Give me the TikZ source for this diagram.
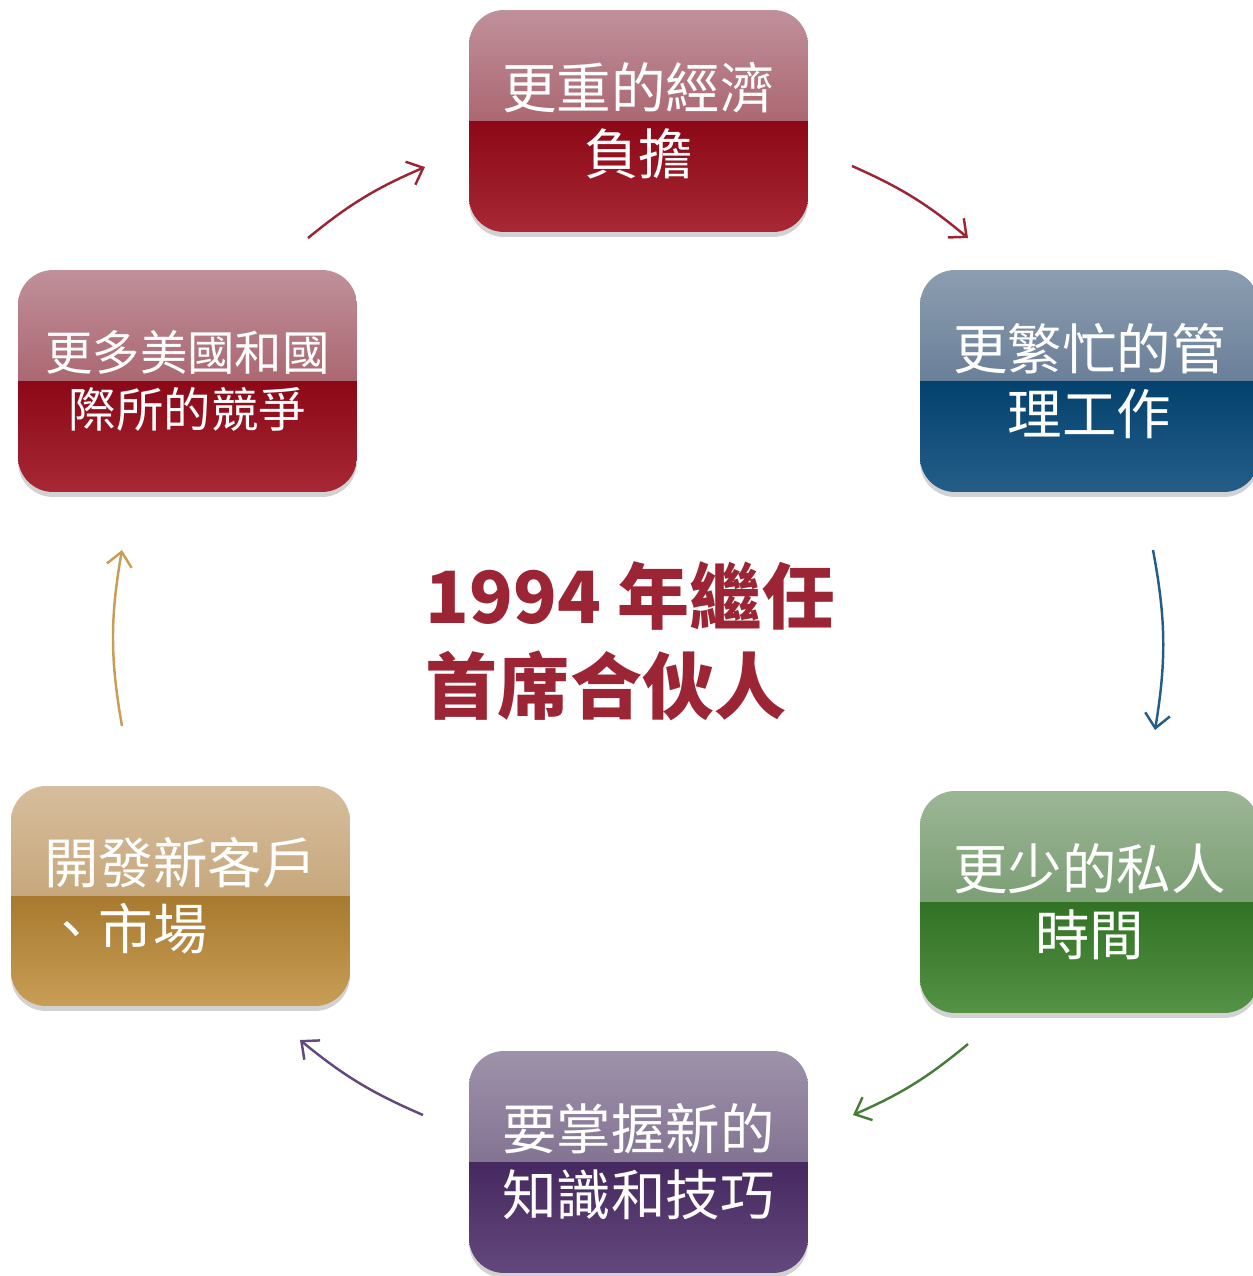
\documentclass[tikz,border=0pt]{standalone}
\usepackage{fontspec}
\newfontfamily\boxfont{Noto Sans CJK TC}
\newfontfamily\titlefont{Noto Sans CJK TC}
\usetikzlibrary{arrows.meta, shadows}

% Colores de las cajas (arriba claro, mitad, abajo oscuro, pie)
\definecolor{rojoA}{HTML}{C0909A}
\definecolor{rojoB}{HTML}{963F49}
\definecolor{rojoC}{HTML}{8C0816}
\definecolor{rojoD}{HTML}{A72836}
\definecolor{azulA}{HTML}{8C9DB0}
\definecolor{azulB}{HTML}{486381}
\definecolor{azulC}{HTML}{03426E}
\definecolor{azulD}{HTML}{245E88}
\definecolor{verdeA}{HTML}{9CB695}
\definecolor{verdeB}{HTML}{5A8753}
\definecolor{verdeC}{HTML}{317224}
\definecolor{verdeD}{HTML}{559245}
\definecolor{moradoA}{HTML}{9E92AA}
\definecolor{moradoB}{HTML}{69557D}
\definecolor{moradoC}{HTML}{45285F}
\definecolor{moradoD}{HTML}{63487D}
\definecolor{oroA}{HTML}{D6BD9C}
\definecolor{oroB}{HTML}{B8935E}
\definecolor{oroC}{HTML}{A87A30}
\definecolor{oroD}{HTML}{C89D55}
\definecolor{titulo}{HTML}{9B2535}

\tikzset{
  caja/.style n args={4}{
    rounded corners=0.7cm, minimum width=6.78cm, minimum height=4.44cm,
    text=white, align=center, inner sep=0pt,
    font=\boxfont\fontsize{31}{37.5}\selectfont,
    drop shadow={shadow xshift=0pt, shadow yshift=-0.1cm, opacity=0.25, fill=black!70},
    path picture={
      \shade[sharp corners, top color=#1, bottom color=#2] (path picture bounding box.north west) rectangle (path picture bounding box.east);
      \shade[sharp corners, top color=#3, bottom color=#4] (path picture bounding box.west) rectangle (path picture bounding box.south east);
    }},
  flecha/.style={line width=1.4pt, -{Straight Barb[length=2.8mm, width=5mm]}}
}

\begin{document}
\begin{tikzpicture}[x=0.02cm, y=-0.02cm]
    \useasboundingbox (0,0) rectangle (1253,1276);
    \clip (0,0) rectangle (1253,1276);

    % Cajas
    \node[caja={rojoA}{rojoB}{rojoC}{rojoD}] (carga) at (638.5,121) {更重的經濟\\負擔};
    \node[caja={azulA}{azulB}{azulC}{azulD}] (gestion) at (1089.5,381) {更繁忙的管\\理工作};
    \node[caja={verdeA}{verdeB}{verdeC}{verdeD}] (tiempo) at (1089.5,902) {更少的私人\\時間};
    \node[caja={moradoA}{moradoB}{moradoC}{moradoD}] (saber) at (638.5,1162) {要掌握新的\\知識和技巧};
    \node[caja={oroA}{oroB}{oroC}{oroD}, align=left, minimum height=4.4cm] (mercado) at (180.5,896) {開發新客戶\\、市場};
    \node[caja={rojoA}{rojoB}{rojoC}{rojoD}, font=\boxfont\fontsize{27}{32.5}\selectfont] (rival) at (187.5,381) {更多美國和國\\際所的競爭};

    % Texto central
    \node[font=\titlefont\bfseries\fontsize{41}{51}\selectfont, text=titulo, align=left] (centro) at (630,641) {1994 年繼任\\首席合伙人};

    % Extremos de las flechas (arco alrededor del centro)
    \coordinate (f1a) at (308,238);
    \coordinate (f1b) at (425,167);
    \coordinate (f2a) at (852,166);
    \coordinate (f2b) at (968,238);
    \coordinate (f3a) at (1153,550);
    \coordinate (f3b) at (1155,730);
    \coordinate (f4a) at (968,1044);
    \coordinate (f4b) at (853,1115);
    \coordinate (f5a) at (423,1115);
    \coordinate (f5b) at (300,1040);
    \coordinate (f6a) at (122,726);
    \coordinate (f6b) at (122,550);

    % Flechas
    \draw[flecha, titulo] (f1a) to[bend left=8] (f1b);
    \draw[flecha, titulo] (f2a) to[bend left=8] (f2b);
    \draw[flecha, azulD] (f3a) to[bend left=10] (f3b);
    \draw[flecha, verdeD!85!black] (f4a) to[bend left=8] (f4b);
    \draw[flecha, moradoD] (f5a) to[bend left=8] (f5b);
    \draw[flecha, oroD] (f6a) to[bend left=10] (f6b);

\end{tikzpicture}
\end{document}
